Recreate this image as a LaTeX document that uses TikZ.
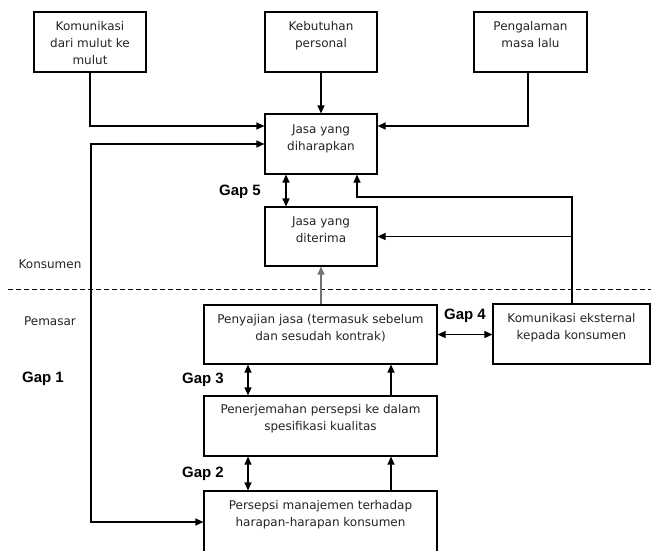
\documentclass[tikz,border=0pt]{standalone}
\usepackage{fontspec}
\setmainfont{DejaVu Sans}
\newfontfamily\gapfont{Liberation Sans}
\usetikzlibrary{arrows.meta}
\definecolor{ink}{RGB}{35,35,35}
\begin{document}
\begin{tikzpicture}[x=1pt,y=-1pt,
  box/.style={draw=black, line width=1.1pt, rectangle, inner sep=0pt},
  txt/.style={align=center, inner sep=0pt, anchor=north, text=ink, font=\fontsize{12}{17}\selectfont},
  lab/.style={inner sep=0pt, text=ink, font=\fontsize{12}{14}\selectfont},
  gaplab/.style={inner sep=0pt, font=\gapfont\bfseries\fontsize{15}{18}\selectfont},
  arr/.style={line width=1.1pt, -{Triangle[length=8pt,width=7pt]}},
  darr/.style={line width=1.1pt, {Triangle[length=8pt,width=7pt]}-{Triangle[length=8pt,width=7pt]}},
  dashline/.style={line width=1pt, dash pattern=on 5pt off 3pt}
]
\useasboundingbox (0,0) rectangle (651,550);
\clip (0,0) rectangle (651,550);

% boxes
\node[box, minimum width=112pt, minimum height=60pt] (A) at (90,42) {};
\node[txt] (At) at ([yshift=-10pt]A.north) {Komunikasi\\dari mulut ke\\mulut};
\node[box, minimum width=112pt, minimum height=60pt] (B) at (321,42) {};
\node[txt] (Bt) at ([yshift=-10pt]B.north) {Kebutuhan\\personal};
\node[box, minimum width=113pt, minimum height=60pt] (C) at (530.5,42) {};
\node[txt] (Ct) at ([yshift=-10pt]C.north) {Pengalaman\\masa lalu};
\node[box, minimum width=112pt, minimum height=60pt] (D) at (321,144) {};
\node[txt] (Dt) at ([yshift=-11pt]D.north) {Jasa yang\\diharapkan};
\node[box, minimum width=112pt, minimum height=59pt] (E) at (321,236.5) {};
\node[txt] (Et) at ([yshift=-10.5pt]E.north) {Jasa yang\\diterima};
\node[box, minimum width=233pt, minimum height=59pt] (F) at (320.5,334.5) {};
\node[txt] (Ft) at ([yshift=-9.5pt]F.north) {Penyajian jasa (termasuk sebelum\\dan sesudah kontrak)};
\node[box, minimum width=157pt, minimum height=60pt] (G) at (571.5,334) {};
\node[txt] (Gt) at ([yshift=-9.5pt]G.north) {Komunikasi eksternal\\kepada konsumen};
\node[box, minimum width=233pt, minimum height=60pt] (H) at (320.5,426) {};
\node[txt] (Ht) at ([yshift=-8.5pt]H.north) {Penerjemahan persepsi ke dalam\\spesifikasi kualitas};
\node[box, minimum width=233pt, minimum height=62pt] (I) at (320.5,522) {};
\node[txt] (It) at ([yshift=-9.5pt]I.north) {Persepsi manajemen terhadap\\harapan-harapan konsumen};

% side labels
\node[lab] (kons) at (50,264) {Konsumen};
\node[lab] (pem) at (50,321) {Pemasar};
\node[gaplab] (gap1) at (43,379) {Gap 1};
\node[gaplab] (gap2) at (203,474) {Gap 2};
\node[gaplab] (gap3) at (203,380) {Gap 3};
\node[gaplab] (gap4) at (465,316) {Gap 4};
\node[gaplab] (gap5) at (240,192) {Gap 5};

% dashed divider
\draw[dashline] (8,289) -- (651,289);

% connectors
\draw[arr] (A.south) |- (D.west |- 0,126);
\draw[arr] (B.south) -- (D.north);
\draw[arr] (C.south -| 528,0) |- (D.east |- 0,126);
\draw[darr] (D.south -| 286,0) -- (E.north -| 286,0);
\coordinate (k) at (572,197);
\draw[arr] (G.north -| k) -- (k) -| ([xshift=36pt]D.south);
\draw[arr] (k |- E.east) -- (E.east);
\draw[arr, draw=black!55] (F.north -| E.south) -- (E.south);
\draw[darr] (F.east) -- (F.east -| G.west);
\draw[darr] (F.south -| 248,0) -- (H.north -| 248,0);
\draw[arr] (H.north -| 391,0) -- (F.south -| 391,0);
\draw[darr] (H.south -| 248,0) -- (I.north -| 248,0);
\draw[arr] (I.north -| 391,0) -- (H.south -| 391,0);
\draw[darr] (D.west) -- (D.west -| 91,0) |- (I.west);
\end{tikzpicture}
\end{document}
